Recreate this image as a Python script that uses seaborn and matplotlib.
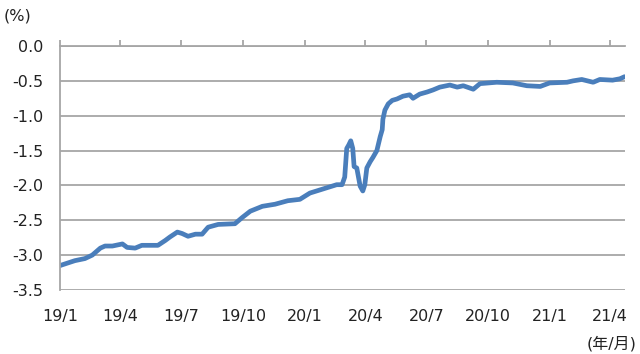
import pandas as pd
import matplotlib
matplotlib.use("Agg")
import matplotlib.pyplot as plt
import seaborn as sns

# values
dates = ["2019-01-01", "2019-01-04", "2019-01-23", "2019-02-07", "2019-02-18",
         "2019-03-02", "2019-03-09", "2019-03-20", "2019-04-04", "2019-04-11",
         "2019-04-23", "2019-05-03", "2019-05-18", "2019-05-27", "2019-06-07",
         "2019-06-14", "2019-06-25", "2019-07-02", "2019-07-11", "2019-07-22",
         "2019-08-01", "2019-08-10", "2019-08-25", "2019-09-19", "2019-09-30",
         "2019-10-12", "2019-10-30", "2019-11-18", "2019-12-07", "2019-12-25",
         "2020-01-09", "2020-01-29", "2020-02-18", "2020-02-26", "2020-03-01",
         "2020-03-04", "2020-03-07", "2020-03-10", "2020-03-13", "2020-03-15",
         "2020-03-19", "2020-03-24", "2020-03-28", "2020-03-31", "2020-04-03",
         "2020-04-08", "2020-04-12", "2020-04-18", "2020-04-23", "2020-04-26",
         "2020-04-27", "2020-04-30", "2020-05-05", "2020-05-11", "2020-05-18",
         "2020-05-27", "2020-06-06", "2020-06-11", "2020-06-21", "2020-07-02",
         "2020-07-11", "2020-07-21", "2020-08-05", "2020-08-16", "2020-08-25",
         "2020-09-09", "2020-09-19", "2020-10-14", "2020-11-07", "2020-11-28",
         "2020-12-18", "2021-01-01", "2021-01-27", "2021-02-05", "2021-02-18",
         "2021-03-07", "2021-03-17", "2021-04-05", "2021-04-16", "2021-04-23"]
values = [-3.15, -3.14, -3.08, -3.05, -3.00,
          -2.90, -2.87, -2.87, -2.84, -2.89,
          -2.90, -2.86, -2.86, -2.86, -2.79,
          -2.74, -2.67, -2.69, -2.73, -2.70,
          -2.70, -2.60, -2.56, -2.55, -2.46,
          -2.37, -2.30, -2.27, -2.22, -2.20,
          -2.11, -2.05, -1.99, -1.99, -1.88,
          -1.47, -1.42, -1.36, -1.47, -1.73,
          -1.75, -2.01, -2.08, -1.99, -1.75,
          -1.66, -1.60, -1.50, -1.30, -1.20,
          -1.05, -0.92, -0.83, -0.78, -0.76,
          -0.72, -0.70, -0.75, -0.69, -0.66,
          -0.63, -0.59, -0.56, -0.59, -0.57,
          -0.62, -0.54, -0.52, -0.53, -0.57,
          -0.58, -0.53, -0.52, -0.50, -0.48,
          -0.52, -0.48, -0.49, -0.47, -0.44]

tick_dates = ["2019-01-01", "2019-04-01", "2019-07-01", "2019-10-01", "2020-01-01",
              "2020-04-01", "2020-07-01", "2020-10-01", "2021-01-01", "2021-04-01"]
tick_labels = ["19/1", "19/4", "19/7", "19/10", "20/1", "20/4", "20/7", "20/10", "21/1", "21/4"]
y_ticks = [0.0, -0.5, -1.0, -1.5, -2.0, -2.5, -3.0, -3.5]

df = pd.DataFrame({"date": pd.to_datetime(dates), "value": values})

sns.set_style("white")
plt.rcParams["font.family"] = ["DejaVu Sans", "Noto Sans CJK JP"]
plt.rcParams["axes.unicode_minus"] = False

grey = "#a6a6a6"
txt = "#222222"
fs = 11.5

fig = plt.figure(figsize=(6.4, 3.54), dpi=100)
ax = fig.add_axes([0.094, 0.181, 0.883, 0.689])

sns.lineplot(x="date", y="value", data=df, ax=ax, color="#4a7ebb", linewidth=3.4)

ax.set_ylim(-3.5, 0.0)
ax.set_yticks(y_ticks)
ax.set_yticklabels([f"{v:.1f}" for v in y_ticks], fontsize=fs)
ax.set_xlim(pd.Timestamp("2019-01-01"), pd.Timestamp("2021-04-24"))
ax.set_xticks(pd.to_datetime(tick_dates))
ax.set_xticklabels(tick_labels, fontsize=fs)

ax.yaxis.grid(True, color=grey, linewidth=1.3)
ax.set_axisbelow(True)
for side in ["left", "top"]:
    ax.spines[side].set_color(grey)
    ax.spines[side].set_linewidth(1.3)
ax.spines["right"].set_visible(False)
ax.spines["bottom"].set_visible(False)

ax.tick_params(axis="y", length=0, pad=12, colors=txt)
ax.tick_params(axis="x", bottom=False, top=True, labelbottom=True, labeltop=False,
               direction="out", length=4, width=1.3, color=grey, pad=10,
               labelcolor=txt)

ax.set_xlabel("")
ax.set_ylabel("")

fig.text(0.006, 0.955, "(%)", fontsize=fs, va="center", ha="left", color=txt)
fig.text(0.995, 0.03, "(年/月)", fontsize=fs, va="center", ha="right", color=txt)

fig.savefig("out.png", dpi=100)
